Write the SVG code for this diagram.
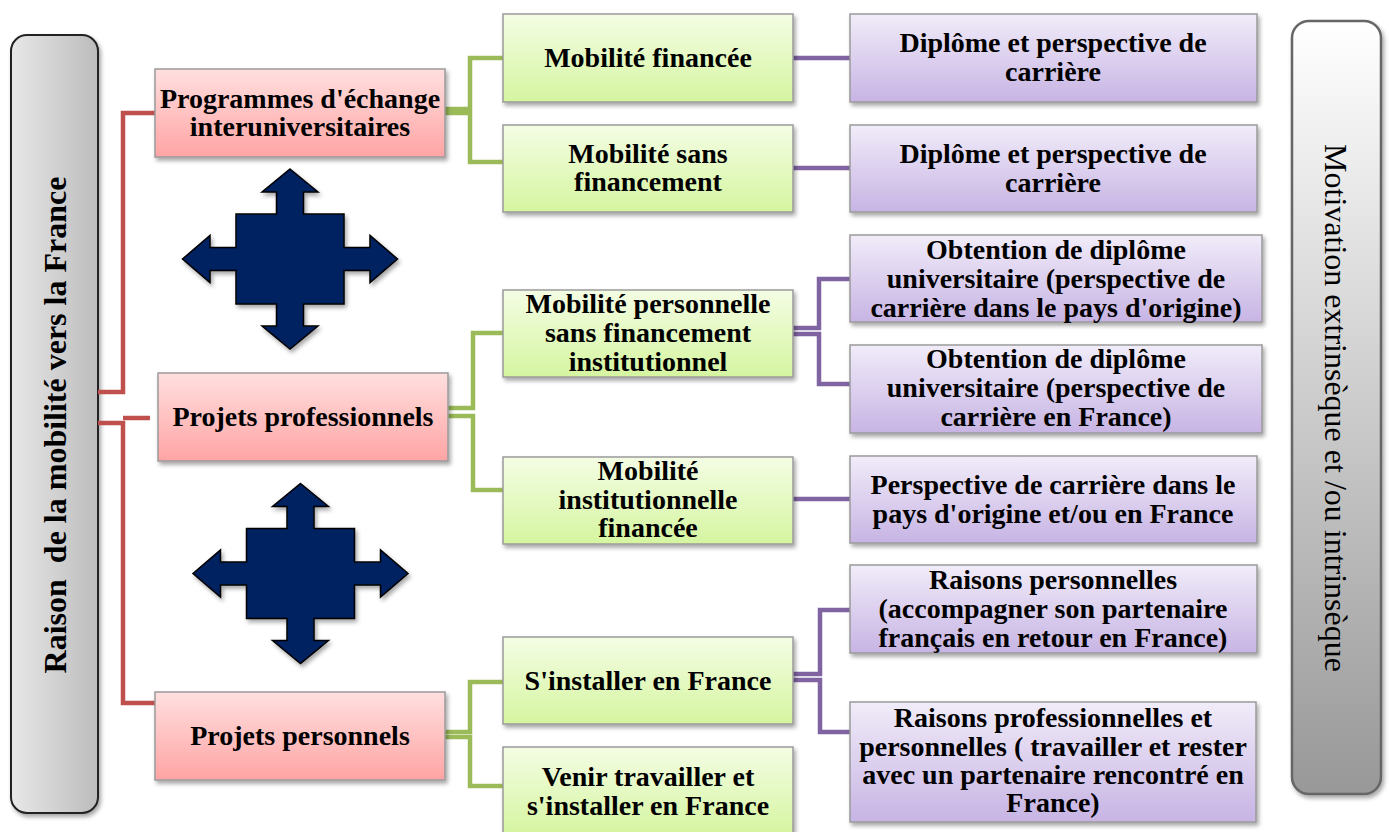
<svg xmlns="http://www.w3.org/2000/svg" xmlns:xlink="http://www.w3.org/1999/xlink" width="1389" height="832" viewBox="0 0 1389 832">
<defs>
<linearGradient id="gRed" x1="0" y1="0" x2="0" y2="1"><stop offset="0" stop-color="#ffdfdf"/><stop offset="1" stop-color="#ffa4a4"/></linearGradient>
<linearGradient id="gGreen" x1="0" y1="0" x2="0" y2="1"><stop offset="0" stop-color="#f4fde4"/><stop offset="1" stop-color="#d5f5a0"/></linearGradient>
<linearGradient id="gPurple" x1="0" y1="0" x2="0" y2="1"><stop offset="0" stop-color="#f1ecf9"/><stop offset="1" stop-color="#c7b4e4"/></linearGradient>
<linearGradient id="gLeft" x1="0" y1="0" x2="1" y2="0"><stop offset="0" stop-color="#e8e8e8"/><stop offset="1" stop-color="#bcbcbc"/></linearGradient>
<linearGradient id="gRight" x1="0" y1="0" x2="0" y2="1"><stop offset="0" stop-color="#ffffff"/><stop offset="1" stop-color="#989898"/></linearGradient>
<filter id="sh" x="-10%" y="-10%" width="130%" height="130%"><feDropShadow dx="2" dy="3" stdDeviation="2" flood-color="#000" flood-opacity="0.35"/></filter>
<path id="cross" d="M0,-90 L28,-67 L13.5,-67 L13.5,-45 L54,-45 L54,-11.5 L80,-11.5 L80,-23.5 L107.5,0 L80,23.5 L80,11.5 L54,11.5 L54,45 L13.5,45 L13.5,67 L28,67 L0,90 L-28,67 L-13.5,67 L-13.5,45 L-54,45 L-54,11.5 L-80,11.5 L-80,23.5 L-107.5,0 L-80,-23.5 L-80,-11.5 L-54,-11.5 L-54,-45 L-13.5,-45 L-13.5,-67 L-28,-67 Z"/>
<style>
.t{font-family:"Liberation Serif","Times New Roman",serif;font-weight:bold;font-size:28px;fill:#000;text-anchor:middle}
.red{fill:url(#gRed);stroke:#9a9a9a;stroke-width:1.5;filter:url(#sh)}
.green{fill:url(#gGreen);stroke:#9a9a9a;stroke-width:1.5;filter:url(#sh)}
.purple{fill:url(#gPurple);stroke:#9a9a9a;stroke-width:1.5;filter:url(#sh)}
.cr{fill:none;stroke:#c0504d;stroke-width:4.5}
.cg{fill:none;stroke:#9bbb59;stroke-width:4.5}
.cp{fill:none;stroke:#8064a2;stroke-width:4.5}
.arr{fill:#002060;stroke:#000;stroke-width:1.5}
</style>
</defs>
<rect width="1389" height="832" fill="#fff"/>

<g id="left-panel">
<rect x="11" y="35" width="87" height="778" rx="16" fill="url(#gLeft)" stroke="#222" stroke-width="2" filter="url(#sh)"/>
<text class="t" style="font-size:32px;white-space:pre" transform="translate(55,425) rotate(-90)" dominant-baseline="central">Raison  de la mobilité vers la France</text>
</g>

<g id="right-panel">
<rect x="1292" y="21" width="89" height="773" rx="17" fill="url(#gRight)" stroke="#666" stroke-width="2.5" filter="url(#sh)"/>
<text transform="translate(1336,408) rotate(90)" dominant-baseline="central" style="font-family:'Liberation Serif','Times New Roman',serif;font-size:32px;text-anchor:middle;fill:#000">Motivation extrinsèque et /ou intrinsèque</text>
</g>

<g id="connectors">
<path class="cr" d="M98,392 H123 V113 H155"/>
<path class="cr" d="M98,423 H123 V703 H155"/>
<path class="cr" d="M123,418 H150"/>
<path class="cg" d="M445,109 H470 V58 H503"/>
<path class="cg" d="M445,113 H470 V162 H503"/>
<path class="cg" d="M448,408 H473 V333 H503"/>
<path class="cg" d="M448,416 H473 V490 H503"/>
<path class="cg" d="M445,732 H470 V682 H503"/>
<path class="cg" d="M445,737 H470 V786 H503"/>
<path class="cp" d="M793,58 H850"/>
<path class="cp" d="M793,168 H850"/>
<path class="cp" d="M793,328 H819 V279 H850"/>
<path class="cp" d="M793,334 H819 V384 H850"/>
<path class="cp" d="M793,499 H850"/>
<path class="cp" d="M793,674 H820 V610 H850"/>
<path class="cp" d="M793,680 H820 V732 H850"/>
</g>

<g id="arrow-1"><use xlink:href="#cross" href="#cross" class="arr" transform="translate(290,259)" filter="url(#sh)"/></g>
<g id="arrow-2"><use xlink:href="#cross" href="#cross" class="arr" transform="translate(300.5,573.5)" filter="url(#sh)"/></g>

<g id="r1"><rect class="red" x="155" y="69" width="290" height="88"/>
<text class="t" x="300" y="108">Programmes d'échange</text><text class="t" x="300" y="136">interuniversitaires</text></g>
<g id="r2"><rect class="red" x="158" y="373" width="290" height="88"/>
<text class="t" x="303" y="426">Projets professionnels</text></g>
<g id="r3"><rect class="red" x="155" y="692" width="290" height="88"/>
<text class="t" x="300" y="745">Projets personnels</text></g>

<g id="g1"><rect class="green" x="503" y="14" width="290" height="88"/>
<text class="t" x="648" y="67">Mobilité financée</text></g>
<g id="g2"><rect class="green" x="503" y="125" width="290" height="87"/>
<text class="t" x="648" y="163">Mobilité sans</text><text class="t" x="648" y="191">financement</text></g>
<g id="g3"><rect class="green" x="503" y="290" width="290" height="87"/>
<text class="t" x="648" y="313">Mobilité personnelle</text><text class="t" x="648" y="342">sans financement</text><text class="t" x="648" y="371">institutionnel</text></g>
<g id="g4"><rect class="green" x="503" y="457" width="290" height="87"/>
<text class="t" x="648" y="480">Mobilité</text><text class="t" x="648" y="509">institutionnelle</text><text class="t" x="648" y="537">financée</text></g>
<g id="g5"><rect class="green" x="503" y="637" width="290" height="87"/>
<text class="t" x="648" y="690">S'installer en France</text></g>
<g id="g6"><rect class="green" x="503" y="747" width="290" height="88"/>
<text class="t" x="648" y="786">Venir travailler et</text><text class="t" x="648" y="815">s'installer en France</text></g>

<g id="p1"><rect class="purple" x="850" y="14" width="407" height="88"/>
<text class="t" x="1053" y="52">Diplôme et perspective de</text><text class="t" x="1053" y="81">carrière</text></g>
<g id="p2"><rect class="purple" x="850" y="125" width="407" height="87"/>
<text class="t" x="1053" y="163">Diplôme et perspective de</text><text class="t" x="1053" y="192">carrière</text></g>
<g id="p3"><rect class="purple" x="850" y="235" width="412" height="87"/>
<text class="t" x="1056" y="259">Obtention de diplôme</text><text class="t" x="1056" y="288">universitaire (perspective de</text><text class="t" x="1056" y="317">carrière dans le pays d'origine)</text></g>
<g id="p4"><rect class="purple" x="850" y="345" width="412" height="88"/>
<text class="t" x="1056" y="368">Obtention de diplôme</text><text class="t" x="1056" y="397">universitaire (perspective de</text><text class="t" x="1056" y="426">carrière en France)</text></g>
<g id="p5"><rect class="purple" x="850" y="456" width="407" height="87"/>
<text class="t" x="1053" y="494">Perspective de carrière dans le</text><text class="t" x="1053" y="523">pays d'origine et/ou en France</text></g>
<g id="p6"><rect class="purple" x="850" y="565" width="407" height="88"/>
<text class="t" x="1053" y="589">Raisons personnelles</text><text class="t" x="1053" y="618">(accompagner son partenaire</text><text class="t" x="1053" y="647">français en retour en France)</text></g>
<g id="p7"><rect class="purple" x="850" y="702" width="406" height="120"/>
<text class="t" x="1053" y="727">Raisons professionnelles et</text><text class="t" x="1053" y="756">personnelles ( travailler et rester</text><text class="t" x="1053" y="784">avec un partenaire rencontré en</text><text class="t" x="1053" y="812">France)</text></g>
</svg>
